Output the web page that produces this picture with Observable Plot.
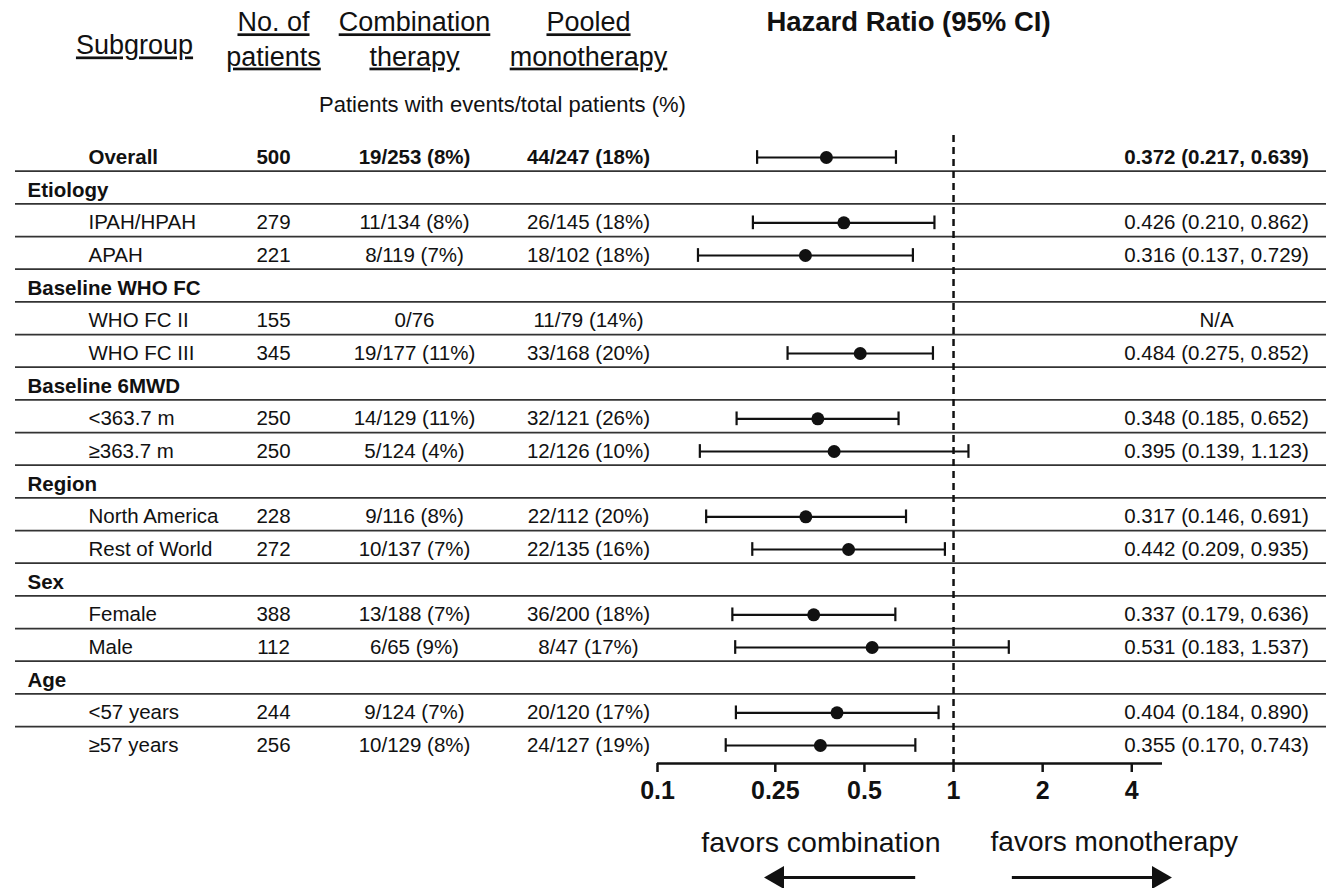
<!DOCTYPE html>
<html>
<head>
<meta charset="utf-8">
<script src="https://cdn.jsdelivr.net/npm/d3@7"></script>
<script src="https://cdn.jsdelivr.net/npm/@observablehq/plot@0.6"></script>
<style>
  html, body { margin: 0; padding: 0; background: #fff; }
  #chart svg { display: block; font-family: "Liberation Sans", Arial, sans-serif; }
</style>
</head>
<body>
<div id="chart"></div>
<script>
// ---- data ----
const labels = ["Overall", "Etiology", "IPAH/HPAH", "APAH", "Baseline WHO FC", "WHO FC II", "WHO FC III",
  "Baseline 6MWD", "<363.7 m", "≥363.7 m", "Region", "North America", "Rest of World",
  "Sex", "Female", "Male", "Age", "<57 years", "≥57 years"];
const kinds = ["overall", "group", "sub", "sub", "group", "sub", "sub", "group", "sub", "sub",
  "group", "sub", "sub", "group", "sub", "sub", "group", "sub", "sub"];
const nPatients = [500, null, 279, 221, null, 155, 345, null, 250, 250, null, 228, 272, null, 388, 112, null, 244, 256];
const combination = ["19/253 (8%)", null, "11/134 (8%)", "8/119 (7%)", null, "0/76", "19/177 (11%)", null,
  "14/129 (11%)", "5/124 (4%)", null, "9/116 (8%)", "10/137 (7%)", null, "13/188 (7%)", "6/65 (9%)", null,
  "9/124 (7%)", "10/129 (8%)"];
const pooled = ["44/247 (18%)", null, "26/145 (18%)", "18/102 (18%)", null, "11/79 (14%)", "33/168 (20%)", null,
  "32/121 (26%)", "12/126 (10%)", null, "22/112 (20%)", "22/135 (16%)", null, "36/200 (18%)", "8/47 (17%)", null,
  "20/120 (17%)", "24/127 (19%)"];
const hr =   [0.372, null, 0.426, 0.316, null, null, 0.484, null, 0.348, 0.395, null, 0.317, 0.442, null, 0.337, 0.531, null, 0.404, 0.355];
const hrLo = [0.217, null, 0.210, 0.137, null, null, 0.275, null, 0.185, 0.139, null, 0.146, 0.209, null, 0.179, 0.183, null, 0.184, 0.170];
const hrHi = [0.639, null, 0.862, 0.729, null, null, 0.852, null, 0.652, 1.123, null, 0.691, 0.935, null, 0.636, 1.537, null, 0.890, 0.743];
const naRows = ["WHO FC II"];
const tickValues = [0.1, 0.25, 0.5, 1, 2, 4];
const tickLabels = ["0.1", "0.25", "0.5", "1", "2", "4"];
const headers = ["Subgroup", "No. of\npatients", "Combination\ntherapy", "Pooled\nmonotherapy"];
const title = "Hazard Ratio (95% CI)";
const subtitle = "Patients with events/total patients (%)";
const favors = ["favors combination", "favors monotherapy"];

// ---- table ----
const rows = labels.map((label, i) => ({
  i, label, kind: kinds[i], n: nPatients[i], combo: combination[i], pooled: pooled[i],
  hr: hr[i], lo: hrLo[i], hi: hrHi[i],
  hrText: hr[i] != null ? `${hr[i].toFixed(3)} (${hrLo[i].toFixed(3)}, ${hrHi[i].toFixed(3)})`
        : (naRows.includes(label) ? "N/A" : null)
}));
const est = rows.filter(d => d.hr != null);
const boundaries = rows.slice(0, -1).map(d => d.i + 0.42);
const last = rows.length - 1;
const ticks = tickValues.map((v, k) => ({ v, label: tickLabels[k] }));

const W = 1326, H = 888;
const mL = 657, mR = 164, mT = 135, mB = 125;
const fs = 20.5;
const ff = "Liberation Sans, Arial, sans-serif";
const ink = "#111";
const rowPx = 588 / last;
const arrowRow = last + 132 / rowPx;

const columnMarks = (data, weight) => [
  Plot.text(data, { y: "i", text: "label", frameAnchor: "left", dx: 88 - mL, textAnchor: "start", fontSize: fs, fontWeight: weight, fill: ink }),
  Plot.text(data.filter(d => d.n != null), { y: "i", text: d => String(d.n), frameAnchor: "left", dx: 273 - mL, textAnchor: "middle", fontSize: fs, fontWeight: weight, fill: ink }),
  Plot.text(data.filter(d => d.combo != null), { y: "i", text: "combo", frameAnchor: "left", dx: 414 - mL, textAnchor: "middle", fontSize: fs, fontWeight: weight, fill: ink }),
  Plot.text(data.filter(d => d.pooled != null), { y: "i", text: "pooled", frameAnchor: "left", dx: 588 - mL, textAnchor: "middle", fontSize: fs, fontWeight: weight, fill: ink }),
  Plot.text(data.filter(d => d.hrText != null), { y: "i", text: "hrText", frameAnchor: "left", dx: 1216 - mL, textAnchor: "middle", fontSize: fs, fontWeight: weight, fill: ink })
];

const headerPos = [[134, 43], [273, 37], [414, 37], [588, 37]];

const plot = Plot.plot({
  width: W, height: H,
  marginLeft: mL, marginRight: mR, marginTop: mT, marginBottom: mB,
  style: { fontFamily: ff, background: "#fff", color: ink },
  x: { type: "log", domain: [0.1, 5.08], axis: null },
  y: { type: "linear", domain: [0, last], range: [157, 745], axis: null },
  marks: [
    // separator rules
    Plot.ruleY(boundaries, { stroke: "#333", strokeWidth: 1.7, insetLeft: -(mL - 15), insetRight: -mR }),
    // dashed reference line at HR = 1
    Plot.ruleX([1], { stroke: ink, strokeWidth: 2.5, strokeDasharray: "7,5" }),
    // axis: line, ticks, labels
    Plot.ruleY([last + 18 / rowPx], { x1: 0.1, x2: 5.08, stroke: ink, strokeWidth: 2.5 }),
    Plot.tickX(ticks, { x: "v", stroke: ink, strokeWidth: 2.5,
      insetTop: H - mT - mB, insetBottom: -9 }),
    Plot.text(ticks, { x: "v", text: "label", frameAnchor: "bottom", dy: 27, lineAnchor: "middle",
      fontSize: 25, fontWeight: "bold", fill: ink }),
    // CI bars
    Plot.ruleY(est, { y: "i", x1: "lo", x2: "hi", stroke: ink, strokeWidth: 2.2 }),
    Plot.ruleX(est, { x: "lo", y1: d => d.i - 0.21, y2: d => d.i + 0.21, stroke: ink, strokeWidth: 2.2 }),
    Plot.ruleX(est, { x: "hi", y1: d => d.i - 0.21, y2: d => d.i + 0.21, stroke: ink, strokeWidth: 2.2 }),
    Plot.dot(est, { x: "hr", y: "i", r: 6.5, fill: ink }),
    // table text
    Plot.text(rows.filter(d => d.kind === "group"), { y: "i", text: "label", frameAnchor: "left", dx: 27 - mL,
      textAnchor: "start", fontSize: fs, fontWeight: "bold", fill: ink }),
    ...columnMarks(rows.filter(d => d.kind === "overall"), "bold"),
    ...columnMarks(rows.filter(d => d.kind === "sub"), "normal"),
    // headers
    ...headers.map((h, k) => Plot.text([h], { text: d => d, frameAnchor: "top-left",
      dx: headerPos[k][0] - mL, dy: headerPos[k][1] - mT, textAnchor: "middle", lineAnchor: "middle",
      fontSize: 27, lineHeight: 1.27, fill: ink })),
    Plot.text([title], { text: d => d, frameAnchor: "top-left", dx: 908 - mL, dy: 22 - mT,
      textAnchor: "middle", lineAnchor: "middle", fontSize: 27.5, fontWeight: "bold", fill: ink }),
    Plot.text([subtitle], { text: d => d, frameAnchor: "top-left", dx: 502 - mL, dy: 104 - mT,
      textAnchor: "middle", lineAnchor: "middle", fontSize: 22, fill: ink }),
    // favors labels + arrows
    Plot.text([favors[0]], { x: [1], text: d => d, frameAnchor: "bottom", dx: -13, dy: 842 - (H - mB),
      textAnchor: "end", lineAnchor: "middle", fontSize: 28.5, fill: ink }),
    Plot.text([favors[1]], { x: [1], text: d => d, frameAnchor: "bottom", dx: 37, dy: 842 - (H - mB),
      textAnchor: "start", lineAnchor: "middle", fontSize: 28, fill: ink }),
    Plot.ruleY([arrowRow], { x1: 0.26, x2: 0.745, stroke: ink, strokeWidth: 3 }),
    Plot.ruleY([arrowRow], { x1: 1.58, x2: 4.8, stroke: ink, strokeWidth: 3 }),
    Plot.dot([0.254], { x: d => d, y: () => arrowRow, symbol: "triangle2", rotate: -90, r: 11, fill: ink }),
    Plot.dot([4.93], { x: d => d, y: () => arrowRow, symbol: "triangle2", rotate: 90, r: 11, fill: ink })
  ]
});

// underline the column headers
const headerSet = new Set(headers.map(h => h.replace(/\n/g, "")));
d3.select(plot).selectAll("text")
  .filter(function () { return headerSet.has(this.textContent); })
  .style("text-decoration", "underline");
document.getElementById("chart").appendChild(plot);
</script>
</body>
</html>
